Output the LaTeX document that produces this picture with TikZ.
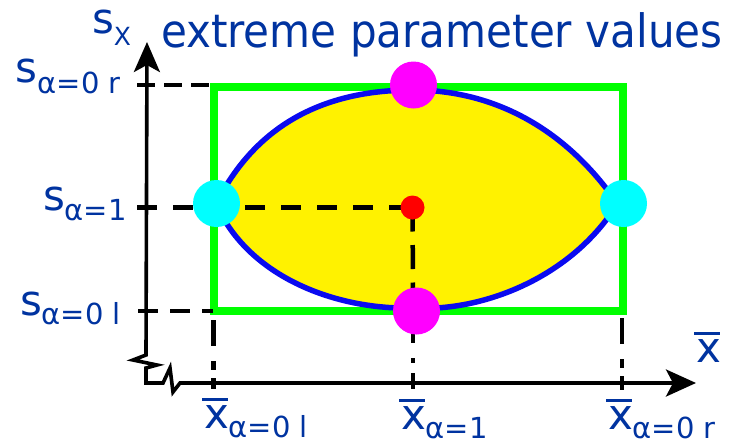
\documentclass[tikz,border=0pt]{standalone}
\usepackage{fontspec}
\setmainfont{DejaVu Sans}
\usepackage{graphicx}
\usetikzlibrary{arrows.meta}
\definecolor{tblue}{RGB}{0,51,160}
\definecolor{lgreen}{RGB}{0,255,0}
\definecolor{oblue}{RGB}{10,10,240}
\definecolor{mag}{RGB}{255,0,255}
\definecolor{cyn}{RGB}{0,255,255}
\definecolor{rdot}{RGB}{255,0,0}
\newcommand{\bigf}{\fontsize{42}{42}\selectfont}
\newcommand{\subf}{\fontsize{29}{29}\selectfont}
\newcommand{\xb}{\rlap{\hspace{-2pt}\raisebox{27pt}{\rule{26pt}{3pt}}}x}
\newcommand{\lab}[3]{{\bigf #1}\raisebox{-#3pt}{\subf #2}}
\begin{document}
\begin{tikzpicture}[x=1pt,y=-1pt,
  lbl/.style={anchor=base west, inner sep=0pt, outer sep=0pt, text=tblue},
  axis/.style={line width=3.6pt, black, line join=miter},
  guide/.style={line width=4.5pt, black, dash pattern=on 20pt off 16pt},
  guidev/.style={line width=4.5pt, black, dash pattern=on 26pt off 15pt on 9pt off 8pt},
  dot/.style={circle, inner sep=0pt, outer sep=0pt, minimum size=47pt},
]
\useasboundingbox (0,0) rectangle (734,445);

% axes
\coordinate (ytip) at (147,42);
\coordinate (xtip) at (696,383);
\coordinate (o) at (146,383);
\draw[axis, {Stealth[length=30pt,width=26pt,inset=7pt]}-{Stealth[length=30pt,width=27pt,inset=7pt]}]
  (ytip) -- (146,355) -- (133,360) -- (157,365) -- (146,368) -- (o)
  -- (163,383) -- (170,368) -- (173,392) -- (180,383) -- (xtip);

% green rectangle
\node[draw=lgreen, line width=8pt, inner sep=0pt, outer sep=0pt,
      minimum width=409.5pt, minimum height=224pt] (box) at (418.25,198.5) {};

% blob
\filldraw[fill=yellow, draw=oblue, line width=5.5pt, line join=round]
  (218,200) .. controls (260,120) and (330,90) .. (413,90)
  .. controls (490,90) and (560,125) .. (612,196)
  -- (612,212) .. controls (565,280) and (480,312) .. (413,308)
  .. controls (340,310) and (255,280) .. (220,212) -- cycle;

% dots (nodes named first, drawn later)
\node[dot] (mt) at (413.5,85) {};
\node[dot] (mb) at (416.5,311) {};
\node[dot] (cl) at (216.5,203.5) {};
\node[dot] (cr) at (623.5,203.5) {};
\node[circle, inner sep=0pt, minimum size=25pt] (rd) at (412.5,207.5) {};

% guide lines
\coordinate (g1) at (137,85);
\coordinate (g1e) at (213,85);
\coordinate (g2) at (137,207.5);
\coordinate (g3) at (138,311);
\coordinate (g3e) at (213,311);
\coordinate (v1) at (213.5,320);
\coordinate (v1e) at (213.5,389);
\coordinate (v2e) at (413,290);
\coordinate (v2b) at (413,334);
\coordinate (v2be) at (413,389);
\coordinate (v3) at (622,318);
\coordinate (v3e) at (622,390);
\draw[guide, dash pattern=on 18pt off 9pt] (g1) -- (g1e);
\draw[guide] (g2) -- (rd.center);
\draw[guide, dash pattern=on 20pt off 12pt] (g3) -- (g3e);
\draw[guidev] (v1) -- (v1e);
\draw[guide, dash pattern=on 24pt off 13.5pt] (rd.center) -- (v2e);
\draw[guide, dash pattern=on 9pt off 15pt on 5pt off 10pt on 20pt off 5pt] (v2b) -- (v2be);
\draw[guidev] (v3) -- (v3e);

% dots drawn
\fill[mag] (mt) circle (23.5pt);
\fill[mag] (mb) circle (23.5pt);
\fill[cyn] (cl) circle (23.5pt);
\fill[cyn] (cr) circle (23.5pt);
\fill[rdot] (rd) circle (12pt);

% labels
\node[lbl] (sx) at (92,33) {\bigf s\raisebox{-12pt}{\fontsize{25}{25}\selectfont X}};
\node[lbl] (title) at (161,47) {\scalebox{0.915}[1]{\fontsize{46}{46}\selectfont extreme parameter values}};
\node[lbl] (s0r) at (16,82) {\lab{s}{α=0 r}{11}};
\node[lbl] (s1) at (43,210) {\lab{s}{α=1}{10}};
\node[lbl] (s0l) at (20,315) {\lab{s}{α=0 l}{9}};
\node[lbl] (x0l) at (204,428) {\lab{\xb}{α=0 l}{9}};
\node[lbl] (x1) at (401,429) {\lab{\xb}{α=1}{9}};
\node[lbl] (x0r) at (608,429) {\lab{\xb}{α=0 r}{9}};
\node[lbl] (xax) at (696,362) {\bigf\xb};
\end{tikzpicture}
\end{document}
